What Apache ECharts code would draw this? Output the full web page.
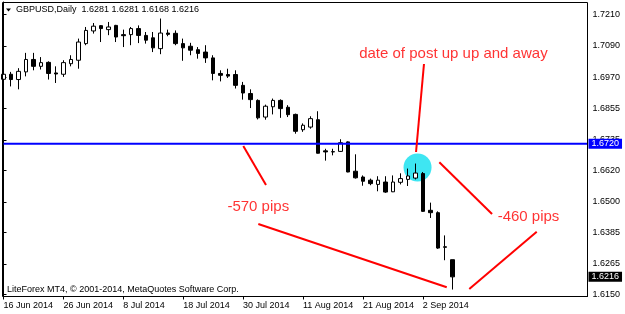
<!DOCTYPE html>
<html>
<head>
<meta charset="utf-8">
<script src="https://cdn.jsdelivr.net/npm/echarts@6/dist/echarts.min.js"></script>
<style>
html, body { margin: 0; padding: 0; background: #fff; }
#chart { width: 625px; height: 314px; }
</style>
</head>
<body>
<div id="chart"></div>
<script>
// GBPUSD daily bars, 16 Jun - 8 Sep 2014
var dates = ['16 Jun 2014','17 Jun 2014','18 Jun 2014','19 Jun 2014','20 Jun 2014','23 Jun 2014','24 Jun 2014','25 Jun 2014','26 Jun 2014','27 Jun 2014',
    '30 Jun 2014','1 Jul 2014','2 Jul 2014','3 Jul 2014','4 Jul 2014','7 Jul 2014','8 Jul 2014','9 Jul 2014','10 Jul 2014','11 Jul 2014',
    '14 Jul 2014','15 Jul 2014','16 Jul 2014','17 Jul 2014','18 Jul 2014','21 Jul 2014','22 Jul 2014','23 Jul 2014','24 Jul 2014','25 Jul 2014',
    '28 Jul 2014','29 Jul 2014','30 Jul 2014','31 Jul 2014','1 Aug 2014','4 Aug 2014','5 Aug 2014','6 Aug 2014','7 Aug 2014','8 Aug 2014',
    '11 Aug 2014','12 Aug 2014','13 Aug 2014','14 Aug 2014','15 Aug 2014','18 Aug 2014','19 Aug 2014','20 Aug 2014','21 Aug 2014','22 Aug 2014',
    '25 Aug 2014','26 Aug 2014','27 Aug 2014','28 Aug 2014','29 Aug 2014','1 Sep 2014','2 Sep 2014','3 Sep 2014','4 Sep 2014','5 Sep 2014',
    '8 Sep 2014'];

var opens = [1.6964,1.6983,1.6963,1.6992,1.7039,1.7013,1.7028,1.6988,1.6983,1.7023,
    1.7036,1.7099,1.7147,1.7167,1.7152,1.7168,1.7133,1.7133,1.7156,1.7130,
    1.7121,1.7080,1.7139,1.7138,1.7099,1.7089,1.7076,1.7067,1.7045,1.6986,
    1.6982,1.6982,1.6941,1.6910,1.6884,1.6821,1.6860,1.6884,1.6858,1.6831,
    1.6773,1.6783,1.6811,1.6693,1.6690,1.6691,1.6727,1.6616,1.6594,1.6582,
    1.6566,1.6575,1.6538,1.6574,1.6585,1.6590,1.6607,1.6468,1.6459,1.6330,
    1.6281];
var highs = [1.7009,1.6992,1.7006,1.7064,1.7064,1.7048,1.7032,1.7013,1.7036,1.7055,
    1.7118,1.7162,1.7177,1.7169,1.7181,1.7170,1.7152,1.7162,1.7168,1.7143,
    1.7143,1.7194,1.7152,1.7149,1.7118,1.7102,1.7086,1.7093,1.7055,1.6998,
    1.7004,1.6998,1.6954,1.6926,1.6888,1.6868,1.6891,1.6888,1.6866,1.6834,
    1.6797,1.6824,1.6843,1.6701,1.6701,1.6737,1.6729,1.6680,1.6600,1.6588,
    1.6597,1.6597,1.6600,1.6608,1.6626,1.6645,1.6613,1.6497,1.6464,1.6373,
    1.6281];
var lows = [1.6953,1.6937,1.6926,1.6975,1.6998,1.7001,1.6963,1.6950,1.6973,1.7013,
    1.7004,1.7093,1.7137,1.7105,1.7131,1.7105,1.7086,1.7093,1.7101,1.7099,
    1.7067,1.7059,1.7127,1.7093,1.7034,1.7055,1.7042,1.7026,1.6960,1.6956,
    1.6969,1.6929,1.6887,1.6855,1.6812,1.6811,1.6831,1.6818,1.6821,1.6758,
    1.6765,1.6777,1.6683,1.6656,1.6676,1.6689,1.6612,1.6588,1.6561,1.6563,
    1.6540,1.6534,1.6537,1.6566,1.6560,1.6585,1.6462,1.6439,1.6322,1.6279,
    1.6168];
var closes = [1.6983,1.6963,1.6994,1.7039,1.7013,1.7027,1.6986,1.6984,1.7027,1.7039,
    1.7105,1.7149,1.7165,1.7156,1.7162,1.7124,1.7129,1.7156,1.7130,1.7112,
    1.7083,1.7139,1.7134,1.7099,1.7083,1.7074,1.7062,1.7045,1.6986,1.6979,
    1.6976,1.6941,1.6912,1.6887,1.6818,1.6862,1.6884,1.6853,1.6830,1.6767,
    1.6790,1.6815,1.6684,1.6689,1.6689,1.6724,1.6613,1.6591,1.6578,1.6569,
    1.6582,1.6537,1.6575,1.6588,1.6598,1.6609,1.6464,1.6459,1.6325,1.6328,
    1.6216];

var yTicks = [1.7210, 1.7090, 1.6970, 1.6855, 1.6735, 1.6620, 1.6500, 1.6385, 1.6265, 1.6150];
var levelPrice = 1.6720;
var yMin = 1.614166;
var yMax = 1.725656;
var totalSlots = 79; // bars plus empty space on the right

// annotations, in [bar index, price]
var noteLines = [
    [[56.16, 1.70218], [55.10, 1.66887]],
    [[32.03, 1.67114], [35.06, 1.65638]],
    [[34.03, 1.64161], [59.20, 1.61765]],
    [[58.21, 1.66497], [65.25, 1.64540]],
    [[62.21, 1.61701], [71.22, 1.63870]]
];
var noteTexts = [
    { name: 'date of post up up and away', value: [60.09, 1.70597] },
    { name: '-570 pips', value: [34.03, 1.64805] },
    { name: '-460 pips', value: [70.12, 1.64445] }
];
var highlight = [[55.30, 1.66300]];

var categories = dates.slice();
for (var i = dates.length; i < totalSlots; i++) categories.push('pad' + i);

var candles = [];
for (var j = 0; j < dates.length; j++) {
    candles.push([opens[j], closes[j], lows[j], highs[j]]);
}
var last = dates.length - 1;
var headText = 'GBPUSD,Daily  ' + [opens[last], highs[last], lows[last], closes[last]].map(function(v) { return v.toFixed(4); }).join(' ');

var font = 'Liberation Sans';
var showIdx = function(idx) { return idx % 8 === 0 && idx < dates.length; };

// flat line across the chart with a price tag on the axis
var priceLine = function(val, lineColor, tagColor) {
    return {
        type: 'line',
        xAxisIndex: 1,
        data: [[0, val], [totalSlots - 1, val]],
        symbol: 'none',
        silent: true,
        z: 4,
        lineStyle: { color: lineColor, width: 2 },
        endLabel: {
            show: true,
            distance: 1,
            formatter: val.toFixed(4),
            color: '#fff',
            backgroundColor: tagColor,
            padding: [1, 3, 0, 3],
            fontSize: 9,
            fontFamily: font
        }
    };
};

var myChart = echarts.init(document.getElementById('chart'));

var series = [
    {
        type: 'scatter',
        xAxisIndex: 1,
        data: highlight,
        symbolSize: 28,
        itemStyle: { color: '#3ee6f2', opacity: 1 },
        silent: true,
        z: 1
    },
    {
        type: 'candlestick',
        data: candles,
        barWidth: 4,
        z: 3,
        itemStyle: {
            color: '#ffffff',
            color0: '#000000',
            borderColor: '#000000',
            borderColor0: '#000000',
            borderWidth: 1
        }
    },
    priceLine(levelPrice, '#0000ff', '#0000ff'),
    priceLine(closes[last], 'rgba(0,0,0,0)', '#000')
];

noteLines.forEach(function(seg) {
    series.push({
        type: 'line',
        xAxisIndex: 1,
        data: seg,
        symbol: 'none',
        silent: true,
        z: 5,
        lineStyle: { color: '#ff0000', width: 2 }
    });
});

series.push({
    type: 'scatter',
    xAxisIndex: 1,
    data: noteTexts,
    symbolSize: 1,
    silent: true,
    z: 5,
    itemStyle: { color: 'rgba(0,0,0,0)' },
    label: {
        show: true,
        position: 'inside',
        formatter: '{b}',
        color: '#ff0000',
        fontSize: 15,
        fontFamily: font
    }
});

option = {
    animation: false,
    backgroundColor: '#fff',
    grid: { left: 3.5, top: 2, right: 37.5, bottom: 17.5, show: false },
    xAxis: [
        {
            type: 'category',
            data: categories,
            boundaryGap: false,
            axisLine: { show: true, lineStyle: { color: '#000' } },
            axisTick: { show: true, length: 3, interval: showIdx, lineStyle: { color: '#000' } },
            axisLabel: {
                interval: showIdx,
                align: 'left',
                margin: 5,
                color: '#000',
                fontSize: 9,
                fontFamily: font
            },
            splitLine: { show: false }
        },
        {
            type: 'value',
            min: 0,
            max: totalSlots - 1,
            show: false
        }
    ],
    yAxis: {
        type: 'value',
        position: 'right',
        min: yMin,
        max: yMax,
        axisLine: { show: true, lineStyle: { color: '#000' } },
        axisTick: { show: true, length: 3, customValues: yTicks, lineStyle: { color: '#000' } },
        axisLabel: {
            customValues: yTicks,
            formatter: function(v) { return v.toFixed(4); },
            margin: 5,
            color: '#000',
            fontSize: 9,
            fontFamily: font
        },
        splitLine: { show: false }
    },
    graphic: [
        {
            type: 'rect',
            shape: { x: 2.5, y: 2.5, width: 585, height: 294 },
            style: { fill: 'none', stroke: '#000', lineWidth: 1 },
            silent: true,
            z: 10
        },
        {
            type: 'polygon',
            shape: { points: [[6, 8.5], [11, 8.5], [8.5, 11.5]] },
            style: { fill: '#000' },
            z: 10
        },
        {
            type: 'text',
            left: 16,
            top: 5,
            style: { text: headText, font: '9px "Liberation Sans"', fill: '#000' },
            z: 10
        },
        {
            type: 'text',
            left: 7,
            top: 285.5,
            style: { text: 'LiteForex MT4, \u00a9 2001-2014, MetaQuotes Software Corp.', font: '9px "Liberation Sans"', fill: '#000' },
            z: 10
        }
    ],
    series: series
};
myChart.setOption(option);
</script>
</body>
</html>
